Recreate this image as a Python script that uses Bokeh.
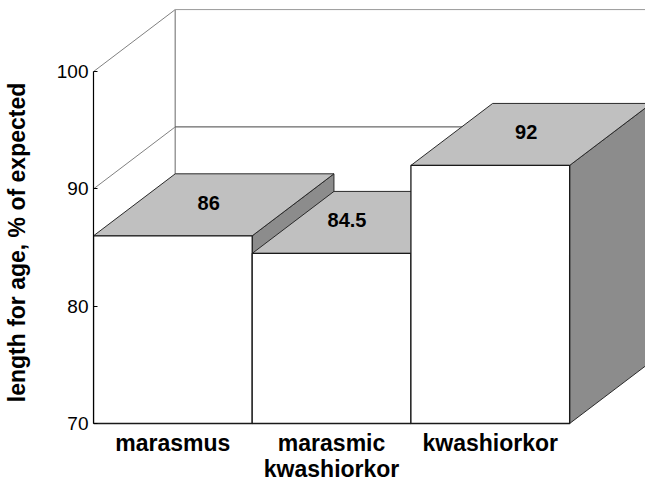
from bokeh.plotting import figure
from bokeh.models import Range1d, FixedTicker
from bokeh.embed import file_html
from bokeh.resources import INLINE

# ---- data ----
categories = ["marasmus", "marasmic\nkwashiorkor", "kwashiorkor"]
values = [86, 84.5, 92]
value_labels = ["86", "84.5", "92"]
y_ticks = [70, 80, 90, 100]
y_label = "length for age, % of expected"

# ---- 3D style parameters ----
DX = 0.515   # depth offset in x units
DY = 5.285   # depth offset in y units
BASE = 70
FONT = "Liberation Sans"

p = figure(width=645, height=484, output_backend="svg", toolbar_location=None,
           x_range=Range1d(0, 3.478), y_range=Range1d(64.8, 106.06),
           min_border_left=92, min_border_right=0, min_border_top=0,
           min_border_bottom=0)
p.outline_line_color = None
p.xgrid.visible = False
p.ygrid.visible = False
p.background_fill_color = "white"
p.xaxis.visible = False

# back wall
n = len(values)
p.segment(x0=[0] * len(y_ticks), y0=y_ticks, x1=[DX] * len(y_ticks),
          y1=[t + DY for t in y_ticks], line_color="#808080", line_width=1)
p.segment(x0=[DX], y0=[BASE + DY], x1=[DX], y1=[y_ticks[-1] + DY],
          line_color="#9a9a9a", line_width=1.5)
grid_colors = ["#444444" if t != y_ticks[-1] else "#9a9a9a" for t in y_ticks]
p.segment(x0=[DX] * len(y_ticks), y0=[t + DY for t in y_ticks],
          x1=[n + 2] * len(y_ticks), y1=[t + DY for t in y_ticks],
          line_color=grid_colors, line_width=1)

# bars: side, top, front for each, drawn left to right
for i, v in enumerate(values):
    x0, x1 = i, i + 1
    p.patch([x1, x1, x1 + DX, x1 + DX], [BASE, v, v + DY, BASE + DY],
            fill_color="#8c8c8c", line_color="#2a2a2a", line_width=1)
    p.patch([x0, x1, x1 + DX, x0 + DX], [v, v, v + DY, v + DY],
            fill_color="#c0c0c0", line_color="#2a2a2a", line_width=1)
    p.quad(left=[x0], right=[x1], bottom=[BASE], top=[v],
           fill_color="white", line_color="#1a1a1a", line_width=1.3)

# value labels, centred on the visible part of each top face
lx, ly = [], []
for i, v in enumerate(values):
    start = i + DX / 2
    end = i + 1 + DX / 2
    if i + 1 < n and values[i + 1] > v:
        end = i + 1
    lx.append((start + end) / 2)
    ly.append(v + DY / 2)
p.text(x=lx, y=ly, text=value_labels, text_align="center", text_baseline="middle",
       text_font={"value": FONT}, text_font_style="bold", text_font_size="20px",
       text_color="black", x_offset=-5, y_offset=-2)

# category labels under each bar (one glyph per text line)
cx, cy, ct, co = [], [], [], []
for i, c in enumerate(categories):
    for j, line in enumerate(c.split("\n")):
        cx.append(i + 0.5)
        cy.append(BASE)
        ct.append(line)
        co.append(19 + 26 * j)
p.text(x=cx, y=cy, text=ct, y_offset=co, text_align="center",
       text_baseline="alphabetic", text_font={"value": FONT},
       text_font_style="bold", text_font_size="23px", text_color="black")

# y axis
p.yaxis.ticker = FixedTicker(ticks=y_ticks)
p.yaxis.bounds = (y_ticks[0], y_ticks[-1])
p.yaxis.axis_line_color = "black"
p.yaxis.axis_line_width = 1.2
p.yaxis.major_tick_in = 4
p.yaxis.major_tick_out = 0
p.yaxis.minor_tick_line_color = None
p.yaxis.major_label_standoff = 5
p.yaxis.major_label_text_font = FONT
p.yaxis.major_label_text_font_size = "19px"
p.yaxis.major_label_text_color = "black"
p.yaxis.axis_label = y_label
p.yaxis.axis_label_text_font = FONT
p.yaxis.axis_label_text_font_style = "bold"
p.yaxis.axis_label_text_font_size = "23px"
p.yaxis.axis_label_text_color = "black"
p.yaxis.axis_label_standoff = 24

open("out.html", "w").write(file_html(p, INLINE))
